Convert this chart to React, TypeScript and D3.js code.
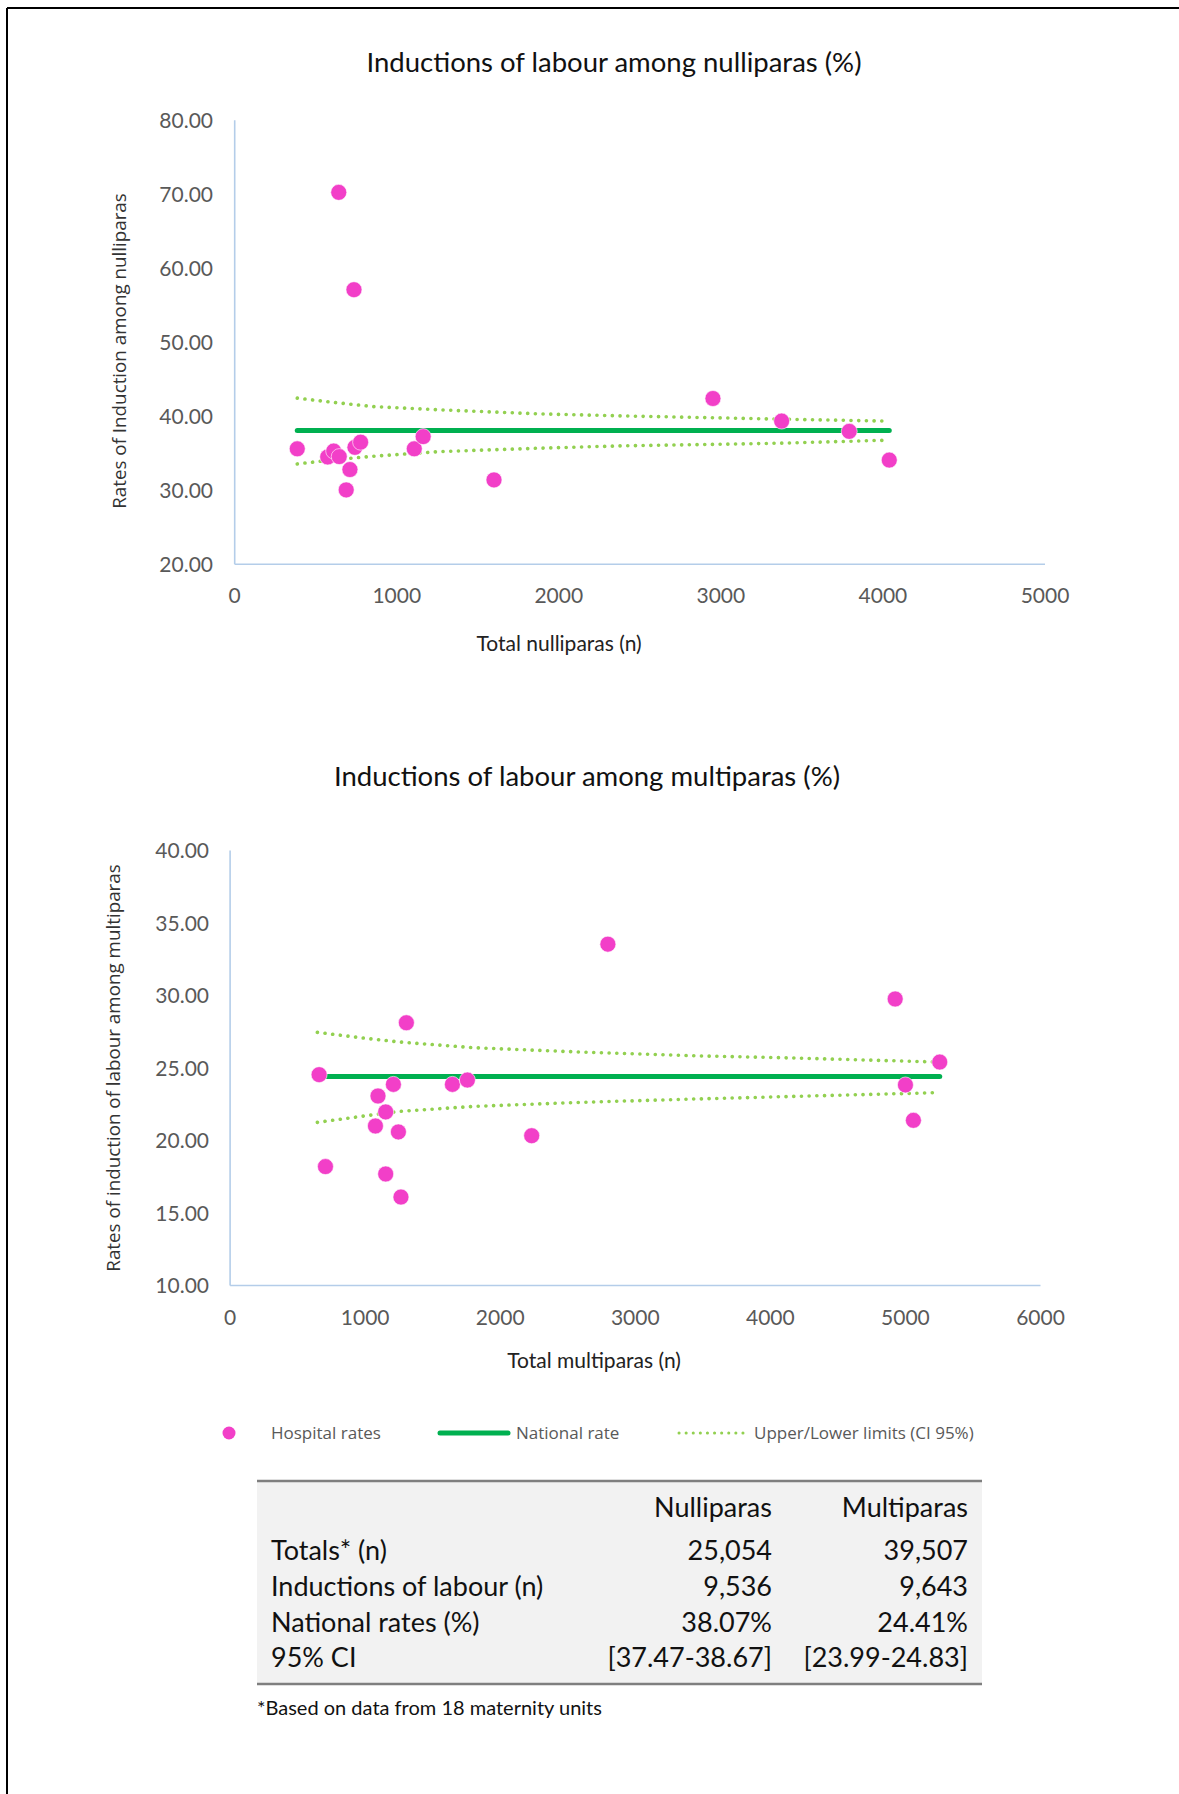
import React from "react";
import * as d3 from "d3";

// ---------- Data ----------
const nulliN = [386, 642, 736, 574, 611, 645, 711, 688, 742, 777, 1108, 1163, 1600, 2951, 3375, 3792, 4039];
const nulliRate = [35.6, 70.25, 57.1, 34.5, 35.3, 34.55, 32.8, 30.05, 35.8, 36.5, 35.6, 37.25, 31.4, 42.4, 39.35, 37.96, 34.08];
const nulliNational = 38.07;
const nulliUpperN = [386, 600, 855, 1266, 1883, 2387, 2950, 3364, 4039];
const nulliUpper = [42.45, 41.9, 41.31, 40.87, 40.32, 40.05, 39.8, 39.61, 39.34];
const nulliLowerN = [386, 600, 855, 1266, 1883, 2387, 2950, 3364, 4000];
const nulliLower = [33.56, 34.1, 34.6, 35.23, 35.69, 36.0, 36.2, 36.36, 36.75];

const multiN = [659, 706, 1095, 1209, 1152, 1076, 1246, 1152, 1265, 1305, 1646, 1757, 2233, 2797, 4924, 5000, 5059, 5254];
const multiRate = [24.54, 18.2, 23.07, 23.87, 21.97, 21.0, 20.59, 17.69, 16.1, 28.12, 23.87, 24.17, 20.33, 33.54, 29.76, 23.83, 21.39, 25.41];
const multiNational = 24.41;
const multiLimN = [646, 1000, 1258, 1800, 2591, 3400, 4170, 5243];
const multiUpper = [27.46, 27.05, 26.79, 26.4, 26.1, 25.85, 25.69, 25.41];
const multiLower = [21.25, 21.7, 22.01, 22.35, 22.63, 22.85, 23.04, 23.3];

const nulliYTicks = [20, 30, 40, 50, 60, 70, 80];
const nulliXTicks = [0, 1000, 2000, 3000, 4000, 5000];
const multiYTicks = [10, 15, 20, 25, 30, 35, 40];
const multiXTicks = [0, 1000, 2000, 3000, 4000, 5000, 6000];

const legendLabels = ["Hospital rates", "National rate", "Upper/Lower limits (CI 95%)"];

const tableHeader = ["", "Nulliparas", "Multiparas"];
const tableRowLabels = ["Totals* (n)", "Inductions of labour (n)", "National rates (%)", "95% CI"];
const tableNulli = ["25,054", "9,536", "38.07%", "[37.47-38.67]"];
const tableMulti = ["39,507", "9,643", "24.41%", "[23.99-24.83]"];
const footnote = "*Based on data from 18 maternity units";

// ---------- Styles ----------
const PINK = "#f23fc8";
const GREEN = "#00b050";
const LIGHTGREEN = "#92d050";
const AXIS = "#b4cde9";
const TICK = "#595959";
const CAL = "Lato, 'Open Sans', sans-serif";
const SEG = "'Open Sans', 'Noto Sans', sans-serif";

type ChartProps = {
  title: string;
  titleX: number;
  titleY: number;
  xLabel: string;
  xLabelX: number;
  xLabelY: number;
  yLabel: string;
  yLabelX: number;
  yLabelY: number;
  xDomain: [number, number];
  yDomain: [number, number];
  xRange: [number, number];
  yRange: [number, number];
  xTicks: number[];
  yTicks: number[];
  xTickY: number;
  yTickX: number;
  n: number[];
  rate: number[];
  national: number;
  upN: number[];
  up: number[];
  loN: number[];
  lo: number[];
};

function Chart(p: ChartProps) {
  const x = d3.scaleLinear().domain(p.xDomain).range(p.xRange);
  const y = d3.scaleLinear().domain(p.yDomain).range(p.yRange);
  const line = d3
    .line<[number, number]>()
    .x((d) => x(d[0]))
    .y((d) => y(d[1]));
  const upPts = p.upN.map((v, i) => [v, p.up[i]] as [number, number]);
  const loPts = p.loN.map((v, i) => [v, p.lo[i]] as [number, number]);
  const [nMin, nMax] = d3.extent(p.n) as [number, number];
  const fmt = d3.format(".2f");
  return (
    <g>
      <text x={p.titleX} y={p.titleY} textAnchor="middle" fontFamily={CAL} fontSize={27.5} fill="#111">
        {p.title}
      </text>
      {/* axes */}
      <line x1={p.xRange[0]} x2={p.xRange[0]} y1={p.yRange[0]} y2={p.yRange[1]} stroke={AXIS} strokeWidth={1.6} />
      <line x1={p.xRange[0]} x2={p.xRange[1]} y1={p.yRange[0]} y2={p.yRange[0]} stroke={AXIS} strokeWidth={1.6} />
      {p.yTicks.map((t) => (
        <text key={"y" + t} x={p.yTickX} y={y(t)} dy="0.36em" textAnchor="end" fontFamily={CAL} fontSize={21} fill={TICK}>
          {fmt(t)}
        </text>
      ))}
      {p.xTicks.map((t) => (
        <text key={"x" + t} x={x(t)} y={p.xTickY} dy="0.36em" textAnchor="middle" fontFamily={CAL} fontSize={21} fill={TICK}>
          {t}
        </text>
      ))}
      <text x={p.xLabelX} y={p.xLabelY} dy="0.36em" textAnchor="middle" fontFamily={CAL} fontSize={21} fill="#222">
        {p.xLabel}
      </text>
      <text
        transform={`translate(${p.yLabelX},${p.yLabelY}) rotate(-90)`}
        dy="0.36em"
        textAnchor="middle"
        fontFamily={SEG}
        fontSize={18.8}
        fill="#333"
      >
        {p.yLabel}
      </text>
      {/* limits */}
      <path d={line(upPts) || ""} fill="none" stroke={LIGHTGREEN} strokeWidth={3.6} strokeLinecap="round" strokeDasharray="0.1 7.6" />
      <path d={line(loPts) || ""} fill="none" stroke={LIGHTGREEN} strokeWidth={3.6} strokeLinecap="round" strokeDasharray="0.1 7.6" />
      {/* national */}
      <line x1={x(nMin)} x2={x(nMax)} y1={y(p.national)} y2={y(p.national)} stroke={GREEN} strokeWidth={5} strokeLinecap="round" />
      {/* points */}
      {p.n.map((v, i) => (
        <circle key={i} cx={x(v)} cy={y(p.rate[i])} r={8} fill={PINK} stroke="#fff" strokeWidth={0.6} />
      ))}
    </g>
  );
}

export default function App() {
  const W = 1179;
  const H = 1794;
  const legendY = 1433;
  const rowYs = [1550, 1586, 1622, 1657];
  return (
    <svg width={W} height={H} style={{ position: "absolute", left: 0, top: 0, background: "#fff" }}>
      <rect x={0} y={0} width={W} height={H} fill="#fff" />
      {/* outer border (top & left) */}
      <line x1={7} x2={W} y1={8} y2={8} stroke="#000" strokeWidth={2} />
      <line x1={7} x2={7} y1={8} y2={H} stroke="#000" strokeWidth={2} />

      <Chart
        title="Inductions of labour among nulliparas (%)"
        titleX={614}
        titleY={72}
        xLabel="Total nulliparas (n)"
        xLabelX={559}
        xLabelY={643}
        yLabel="Rates of Induction among nulliparas"
        yLabelX={119}
        yLabelY={351}
        xDomain={[0, 5000]}
        yDomain={[20, 80]}
        xRange={[234.7, 1045]}
        yRange={[564.3, 120.2]}
        xTicks={nulliXTicks}
        yTicks={nulliYTicks}
        xTickY={595}
        yTickX={213}
        n={nulliN}
        rate={nulliRate}
        national={nulliNational}
        upN={nulliUpperN}
        up={nulliUpper}
        loN={nulliLowerN}
        lo={nulliLower}
      />
      <Chart
        title="Inductions of labour among multiparas (%)"
        titleX={587}
        titleY={786}
        xLabel="Total multiparas (n)"
        xLabelX={594}
        xLabelY={1360}
        yLabel="Rates of induction of labour among multiparas"
        yLabelX={113}
        yLabelY={1068}
        xDomain={[0, 6000]}
        yDomain={[10, 40]}
        xRange={[230.1, 1040.5]}
        yRange={[1285.5, 850.5]}
        xTicks={multiXTicks}
        yTicks={multiYTicks}
        xTickY={1317}
        yTickX={209}
        n={multiN}
        rate={multiRate}
        national={multiNational}
        upN={multiLimN}
        up={multiUpper}
        loN={multiLimN}
        lo={multiLower}
      />

      {/* legend */}
      <g fontFamily={SEG} fontSize={17} fill={TICK}>
        <circle cx={229} cy={legendY} r={6.5} fill={PINK} />
        <text x={271} y={legendY} dy="0.36em">{legendLabels[0]}</text>
        <line x1={440} x2={508} y1={legendY} y2={legendY} stroke={GREEN} strokeWidth={5} strokeLinecap="round" />
        <text x={516} y={legendY} dy="0.36em">{legendLabels[1]}</text>
        <line x1={679} x2={744} y1={legendY} y2={legendY} stroke={LIGHTGREEN} strokeWidth={3} strokeLinecap="round" strokeDasharray="0.1 7" />
        <text x={754} y={legendY} dy="0.36em">{legendLabels[2]}</text>
      </g>

      {/* table */}
      <rect x={257} y={1481} width={725} height={203} fill="#f2f2f2" />
      <line x1={257} x2={982} y1={1481} y2={1481} stroke="#7f7f7f" strokeWidth={2.5} />
      <line x1={257} x2={982} y1={1684} y2={1684} stroke="#7f7f7f" strokeWidth={2.5} />
      <g fontFamily={CAL} fontSize={27} fill="#111">
        <text x={772} y={1507} dy="0.36em" textAnchor="end">{tableHeader[1]}</text>
        <text x={968} y={1507} dy="0.36em" textAnchor="end">{tableHeader[2]}</text>
        {tableRowLabels.map((l, i) => (
          <g key={l}>
            <text x={271} y={rowYs[i]} dy="0.36em">{l}</text>
            <text x={772} y={rowYs[i]} dy="0.36em" textAnchor="end">{tableNulli[i]}</text>
            <text x={968} y={rowYs[i]} dy="0.36em" textAnchor="end">{tableMulti[i]}</text>
          </g>
        ))}
      </g>
      <text x={257} y={1708} dy="0.36em" fontFamily={CAL} fontSize={20} fill="#111">
        {footnote}
      </text>
    </svg>
  );
}
